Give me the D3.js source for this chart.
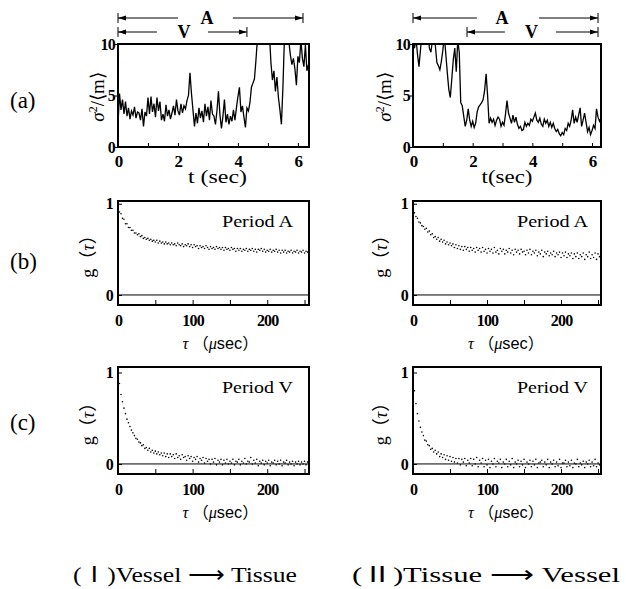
<!DOCTYPE html>
<html>
<head>
<meta charset="utf-8">
<script src="https://cdn.jsdelivr.net/npm/d3@7"></script>
<style>
body { margin: 0; background: #fff; }
svg text { font-family: "Liberation Serif", "Noto Sans CJK JP", serif; fill: #000; font-weight: normal; }
</style>
</head>
<body>
<div id="wrapper"></div>
<script>
// sampling steps of the recorded series
const dt = 0.05;   // sec, panels (a)
const dTau = 2;    // usec, panels (b) (c)

// (a) sigma^2/<m> vs t
const sigmaI = [2.2,5.2,3.6,4.6,3.2,4.4,3.0,3.8,2.7,3.5,3.1,3.9,2.8,3.4,3.3,2.6,3.7,2.0,3.4,3.0,
  4.8,3.2,4.9,3.4,4.2,2.9,4.8,3.5,4.4,2.6,3.2,2.5,4.1,3.0,3.6,2.7,3.3,4.0,3.1,4.6,
  3.5,3.1,4.2,3.3,4.0,3.7,4.5,5.0,7.2,5.2,3.6,2.0,3.3,2.3,3.8,2.8,3.5,2.4,4.2,3.0,
  3.9,2.6,4.5,3.2,3.0,2.2,3.5,5.4,3.1,1.8,3.0,4.6,2.4,3.2,2.2,3.0,2.5,3.6,2.6,3.8,
  4.9,5.8,3.4,4.0,2.9,1.9,3.8,3.5,4.3,5.8,6.2,6.6,8.4,10.5,12,12,12,12,12,12,
  12,11,8.2,6.5,7.4,5.4,6.8,4.8,3.6,2.2,5.8,10.5,12,12,10.2,8.9,8.0,8.6,7.6,6.0,
  8.8,8.2,10.4,8.6,7.8,9.9,7.4,8.0];
const sigmaII = [10.5,9.6,10.6,9.0,7.8,9.4,11,10.4,11,10.6,11,9.6,9.2,10.3,11,9.8,8.2,7.9,7.5,8.3,
  9.4,10.8,9.0,7.2,5.6,4.8,6.6,8.5,9.6,7.3,10.4,9.2,4.3,4.0,3.0,2.0,2.6,3.7,2.6,2.0,
  2.5,1.9,2.3,3.4,3.9,4.1,4.3,4.6,5.5,7.1,5.0,2.3,2.8,2.4,2.7,2.1,2.6,2.9,2.7,2.0,
  2.4,2.1,3.2,4.5,3.3,2.8,2.3,3.1,2.4,2.9,2.2,1.8,2.0,1.6,1.7,2.4,2.0,2.3,2.1,2.7,
  2.5,2.9,3.3,2.6,2.4,2.8,2.2,2.0,2.7,2.3,2.6,2.0,2.4,1.9,2.3,1.8,1.5,1.7,1.3,1.1,
  1.4,1.2,1.8,1.6,2.3,2.0,2.6,3.6,2.3,2.9,2.4,3.1,3.8,2.0,2.6,3.3,2.4,1.5,1.9,1.2,
  1.6,2.1,1.8,3.7,2.9,2.5,2.8];

// (b) g(tau), period A
const gA_I = [0.97,0.91,0.89,0.84,0.83,0.78,0.78,0.74,0.74,0.71,0.71,0.68,0.68,0.66,0.67,0.64,
  0.65,0.62,0.63,0.61,0.62,0.60,0.61,0.59,0.60,0.58,0.60,0.57,0.59,0.57,0.58,0.56,
  0.58,0.56,0.57,0.55,0.57,0.55,0.56,0.54,0.57,0.55,0.54,0.56,0.53,0.55,0.54,0.56,
  0.53,0.55,0.52,0.55,0.53,0.54,0.51,0.54,0.52,0.53,0.51,0.54,0.52,0.50,0.53,0.51,
  0.52,0.50,0.53,0.51,0.52,0.50,0.52,0.49,0.52,0.50,0.51,0.49,0.52,0.50,0.51,0.48,
  0.51,0.49,0.51,0.48,0.50,0.49,0.51,0.48,0.50,0.49,0.51,0.48,0.50,0.47,0.50,0.49,
  0.51,0.48,0.50,0.47,0.49,0.48,0.50,0.47,0.49,0.48,0.50,0.47,0.49,0.46,0.49,0.47,
  0.49,0.46,0.48,0.47,0.49,0.46,0.48,0.47,0.49,0.46,0.48,0.47,0.49,0.46,0.48,0.47];
const gA_II = [0.95,0.90,0.86,0.84,0.80,0.79,0.76,0.75,0.72,0.73,0.69,0.70,0.66,0.67,0.63,0.64,
  0.61,0.63,0.59,0.61,0.58,0.60,0.56,0.58,0.55,0.57,0.54,0.56,0.52,0.55,0.51,0.54,
  0.50,0.53,0.49,0.53,0.50,0.52,0.48,0.52,0.49,0.51,0.47,0.52,0.49,0.51,0.47,0.52,
  0.48,0.50,0.46,0.51,0.48,0.50,0.46,0.52,0.47,0.49,0.45,0.51,0.48,0.50,0.45,0.49,
  0.47,0.51,0.46,0.49,0.44,0.50,0.47,0.49,0.45,0.50,0.47,0.48,0.44,0.49,0.46,0.50,
  0.44,0.48,0.46,0.49,0.43,0.47,0.45,0.49,0.42,0.47,0.45,0.48,0.43,0.46,0.44,0.48,
  0.42,0.46,0.44,0.47,0.41,0.46,0.43,0.47,0.41,0.45,0.43,0.46,0.40,0.45,0.42,0.46,
  0.40,0.44,0.42,0.46,0.39,0.44,0.42,0.47,0.40,0.44,0.41,0.46,0.39,0.45,0.42,0.37];

// (c) g(tau), period V
const gV_I = [0.97,0.88,0.76,0.68,0.61,0.55,0.49,0.45,0.41,0.37,0.34,0.31,0.28,0.27,0.24,0.23,
  0.20,0.21,0.17,0.18,0.15,0.17,0.13,0.15,0.12,0.14,0.11,0.13,0.10,0.12,0.09,0.12,
  0.08,0.11,0.07,0.11,0.08,0.10,0.06,0.11,0.07,0.09,0.05,0.10,0.07,0.08,0.04,0.09,
  0.06,0.08,0.03,0.07,0.05,0.08,0.02,0.06,0.04,0.07,0.01,0.06,0.03,0.05,0.00,0.05,
  0.02,0.06,-0.01,0.04,0.02,0.05,-0.01,0.04,0.01,0.05,0.00,0.03,0.01,0.05,-0.01,0.03,
  0.02,0.05,-0.01,0.03,0.01,0.06,0.00,0.03,0.02,0.07,0.00,0.04,0.01,0.05,-0.02,0.03,
  0.01,0.04,-0.01,0.03,0.01,0.04,-0.02,0.02,0.01,0.04,-0.01,0.03,0.00,0.04,-0.02,0.02,
  0.01,0.04,-0.01,0.02,0.00,0.03,-0.02,0.02,0.00,0.03,-0.01,0.02,0.00,0.03,-0.01,0.02];
const gV_II = [0.92,0.80,0.66,0.55,0.47,0.40,0.35,0.31,0.26,0.25,0.21,0.20,0.16,0.17,0.13,0.15,
  0.11,0.13,0.08,0.11,0.07,0.10,0.05,0.09,0.04,0.08,0.03,0.07,0.02,0.06,0.01,0.06,
  -0.01,0.05,0.02,0.06,-0.02,0.04,0.01,0.06,-0.02,0.05,0.00,0.07,-0.03,0.04,0.01,0.06,
  -0.03,0.04,-0.01,0.05,-0.04,0.03,0.00,0.06,-0.03,0.03,0.01,0.05,-0.04,0.02,0.00,0.05,
  -0.03,0.03,-0.01,0.06,-0.04,0.02,0.00,0.04,-0.03,0.03,-0.01,0.05,-0.04,0.02,0.00,0.04,
  -0.03,0.03,-0.01,0.05,-0.04,0.01,0.02,0.04,-0.03,0.02,-0.01,0.05,-0.04,0.02,0.00,0.04,
  -0.03,0.02,-0.02,0.05,-0.04,0.01,0.01,0.04,-0.03,0.02,-0.02,0.04,-0.04,0.01,0.00,0.05,
  -0.03,0.01,-0.01,0.03,-0.04,0.02,0.00,0.04,-0.03,0.02,-0.02,0.05,-0.03,0.01,-0.01,0.03];

const tTicks = [0, 1, 2, 3, 4, 5, 6];
const tauTicks = [0, 50, 100, 150, 200, 250];
const rowNames = ["(a)", "(b)", "(c)"];
const periodNames = ["Period A", "Period V"];
const tLabels = ["t (sec)", "t(sec)"];
const captions = ["(Ⅰ)Vessel ⟶ Tissue", "(Ⅱ)Tissue ⟶ Vessel"];
// period spans over the (a) record: [name, start, end, gapStart, gapEnd, labelAt]
const spansI = [["A", 0, 6.17, 2.0, 3.83, 2.97], ["V", 0, 4.3, 1.3, 3.0, 2.2]];
const spansII = [["A", 0, 6.2, 2.14, 4.22, 2.98], ["V", 1.81, 6.2, 3.08, 4.79, 3.97]];

const dimension = {
    width: 626,
    height: 589,
    cols: [{x0: 118, x1: 309, tMax: 6.37, tauMax: 256, ylab: 97, glab: 88},
           {x0: 413, x1: 601, tMax: 6.3, tauMax: 254, ylab: 384, glab: 381}],
    rowA: {y0: 44, y1: 147},
    rowB: {y0: 201, y1: 305, dom: [-0.11, 1.03]},
    rowC: {y0: 367, y1: 474, dom: [-0.11, 1.06]}
};
const serif = "Liberation Serif";

const svg = d3.select("#wrapper").append("svg")
    .attr("width", dimension.width)
    .attr("height", dimension.height);

function styleAxis(g, size) {
    g.select(".domain").remove();
    g.attr("font-family", null);
    g.selectAll("line").attr("stroke", "#000");
    g.selectAll("text")
        .attr("font-family", serif)
        .attr("font-size", size)
        .style("font-weight", "bold")
        .attr("letter-spacing", "-0.8px");
}

function frame(col, row) {
    svg.append("rect")
        .attr("x", col.x0).attr("y", row.y0)
        .attr("width", col.x1 - col.x0).attr("height", row.y1 - row.y0)
        .attr("fill", "none").attr("stroke", "#000").attr("stroke-width", 2);
}

function drawSpan(x, s, yPos) {
    const g = svg.append("g").attr("stroke", "#000").attr("stroke-width", 1);
    const a = x(s[1]), b = x(s[2]);
    g.append("line").attr("x1", a).attr("x2", x(s[3])).attr("y1", yPos).attr("y2", yPos);
    g.append("line").attr("x1", x(s[4])).attr("x2", b).attr("y1", yPos).attr("y2", yPos);
    [a, b].forEach(function(e) {
        g.append("line").attr("x1", e).attr("x2", e).attr("y1", yPos - 5).attr("y2", yPos + 5);
    });
    g.append("path").attr("fill", "#000").attr("stroke", "none")
        .attr("d", `M${a},${yPos}L${a + 8},${yPos - 2.5}L${a + 8},${yPos + 2.5}Z`);
    g.append("path").attr("fill", "#000").attr("stroke", "none")
        .attr("d", `M${b},${yPos}L${b - 8},${yPos - 2.5}L${b - 8},${yPos + 2.5}Z`);
    svg.append("text").attr("x", x(s[5])).attr("y", yPos + 6)
        .attr("text-anchor", "middle").attr("font-size", 18).style("font-weight", "bold")
        .text(s[0]);
}

function panelA(ci, values, spans) {
    const col = dimension.cols[ci], row = dimension.rowA;
    const x = d3.scaleLinear().domain([0, col.tMax]).range([col.x0, col.x1]);
    const y = d3.scaleLinear().domain([0, 10]).range([row.y1, row.y0]);

    svg.append("clipPath").attr("id", "clipA" + ci)
        .append("rect").attr("x", col.x0).attr("y", row.y0)
        .attr("width", col.x1 - col.x0).attr("height", row.y1 - row.y0);

    const line = d3.line().x((d, i) => x(i * dt)).y(d => y(d));
    svg.append("path").datum(values)
        .attr("clip-path", `url(#clipA${ci})`)
        .attr("fill", "none").attr("stroke", "#000").attr("stroke-width", 1.3)
        .attr("d", line);

    svg.append("g").attr("transform", `translate(0,${row.y1})`)
        .call(d3.axisBottom(x).tickValues(tTicks).tickSize(-4).tickPadding(8)
            .tickFormat(d => d % 2 ? "" : d))
        .call(g => styleAxis(g, 17));
    svg.append("g").attr("transform", `translate(${col.x0},0)`)
        .call(d3.axisLeft(y).tickValues([0, 5, 10]).tickSize(3).tickPadding(0))
        .call(g => styleAxis(g, 16));
    frame(col, row);

    svg.append("text").attr("x", (col.x0 + col.x1) / 2 + (ci ? 0 : 4)).attr("y", 183)
        .attr("text-anchor", "middle").attr("font-size", 18)
        .attr("textLength", ci ? 51 : 59).attr("lengthAdjust", "spacingAndGlyphs")
        .text(tLabels[ci]);

    svg.append("text")
        .attr("transform", `translate(${col.ylab},97) rotate(-90)`)
        .attr("text-anchor", "middle").attr("dy", "0.35em").attr("font-size", 19)
        .html('<tspan font-style="italic">σ</tspan><tspan dy="-7" font-size="12">2</tspan><tspan dy="7">/⟨m⟩</tspan>');

    drawSpan(x, spans[0], 18);
    drawSpan(x, spans[1], 32);
}

function panelG(ci, row, values, name) {
    const col = dimension.cols[ci];
    const x = d3.scaleLinear().domain([0, col.tauMax]).range([col.x0, col.x1]);
    const y = d3.scaleLinear().domain(row.dom).range([row.y1, row.y0]);

    svg.append("line")
        .attr("x1", col.x0).attr("x2", col.x1)
        .attr("y1", y(0)).attr("y2", y(0))
        .attr("stroke", "#000").attr("stroke-width", 1);

    svg.append("g").selectAll("circle").data(values).join("circle")
        .attr("cx", (d, i) => x(i * dTau))
        .attr("cy", d => y(d))
        .attr("r", 0.8)
        .attr("fill", "#000");

    svg.append("g").attr("transform", `translate(0,${row.y1})`)
        .call(d3.axisBottom(x).tickValues(tauTicks).tickSize(-5).tickPadding(10)
            .tickFormat(d => d % 100 ? "" : d))
        .call(g => styleAxis(g, 16));
    svg.append("g").attr("transform", `translate(${col.x0},0)`)
        .call(d3.axisLeft(y).tickValues([0, 1]).tickSize(-4).tickPadding(5)
            .tickFormat(d3.format("d")))
        .call(g => styleAxis(g, 16));
    frame(col, row);

    svg.append("text").attr("x", col.x0 + 104).attr("y", row.y0 + 26)
        .attr("font-size", 17).attr("textLength", 71).attr("lengthAdjust", "spacingAndGlyphs")
        .text(name);

    svg.append("text").attr("x", (col.x0 + col.x1) / 2 + (ci ? -1 : 7)).attr("y", row.y1 + 44)
        .attr("text-anchor", "middle").attr("font-size", 16)
        .attr("textLength", 76).attr("lengthAdjust", "spacingAndGlyphs")
        .html('<tspan font-style="italic">τ</tspan> （<tspan font-style="italic">μ</tspan><tspan font-family="Liberation Sans">sec</tspan>）');

    svg.append("text")
        .attr("transform", `translate(${col.glab},${(row.y0 + row.y1) / 2 - 1}) rotate(-90)`)
        .attr("text-anchor", "middle").attr("dy", "0.35em").attr("font-size", 18)
        .html('g（<tspan font-style="italic">τ</tspan>）');
}

panelA(0, sigmaI, spansI);
panelA(1, sigmaII, spansII);
panelG(0, dimension.rowB, gA_I, periodNames[0]);
panelG(1, dimension.rowB, gA_II, periodNames[0]);
panelG(0, dimension.rowC, gV_I, periodNames[1]);
panelG(1, dimension.rowC, gV_II, periodNames[1]);

const rowCenters = [101, 262, 423];
svg.selectAll(".rowname").data(rowNames).join("text")
    .attr("class", "rowname")
    .attr("x", 10).attr("y", (d, i) => rowCenters[i] + 7)
    .attr("font-size", 23)
    .text(d => d);

const captionX = [[73, 224], [352, 268]];
svg.selectAll(".caption").data(captions).join("text")
    .attr("class", "caption")
    .attr("x", (d, i) => captionX[i][0]).attr("y", 582)
    .attr("font-size", 22)
    .attr("textLength", (d, i) => captionX[i][1]).attr("lengthAdjust", "spacingAndGlyphs")
    .text(d => d);
</script>
</body>
</html>
